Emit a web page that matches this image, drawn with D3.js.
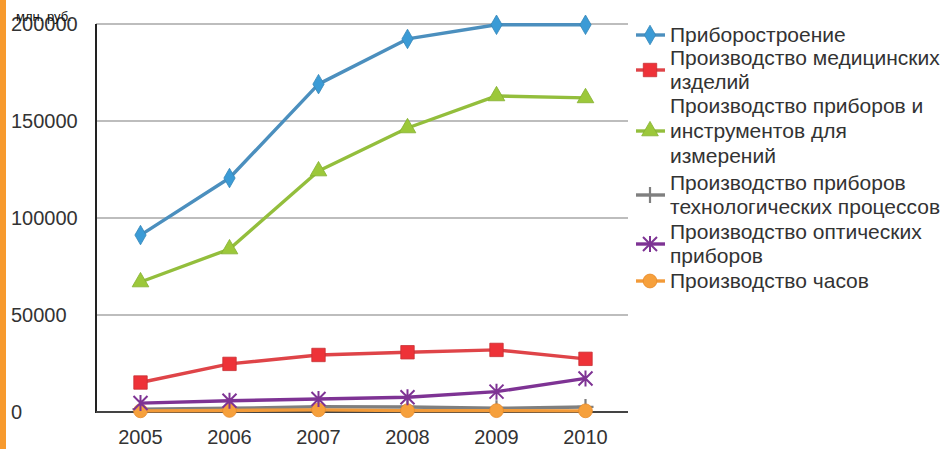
<!DOCTYPE html>
<html>
<head>
<meta charset="utf-8">
<script src="https://cdn.jsdelivr.net/npm/d3@7/dist/d3.min.js"></script>
<style>
  html, body { margin: 0; padding: 0; background: #fff; }
  svg { display: block; }
  text { font-family: "Liberation Sans", Arial, sans-serif; }
</style>
</head>
<body>
<svg id="chart" width="947" height="449"></svg>
<script>
// Years on the category axis
const years = ["2005", "2006", "2007", "2008", "2009", "2010"];

// Output by industry segment, млн. руб.
const instrumentMaking   = [91200, 120600, 169000, 192300, 199600, 199600];
const medicalProducts    = [15200, 24800, 29400, 30800, 32000, 27400];
const measuringDevices   = [67000, 84000, 124200, 146400, 162900, 161900];
const processControl     = [1500, 1900, 2700, 2600, 1900, 2600];
const opticalDevices     = [4600, 5800, 6700, 7600, 10500, 17300];
const watches            = [600, 800, 1100, 700, 700, 600];

const yTicks = [0, 50000, 100000, 150000, 200000];

const seriesNames = [
  ["Приборостроение"],
  ["Производство медицинских", "изделий"],
  ["Производство приборов и", "инструментов для", "измерений"],
  ["Производство приборов", "технологических процессов"],
  ["Производство оптических", "приборов"],
  ["Производство часов"]
];

const series = [
  { values: instrumentMaking, line: "#4b8fbe", fill: "#3b9bd6", marker: "diamond" },
  { values: medicalProducts,  line: "#df4448", fill: "#ee3238", marker: "square" },
  { values: measuringDevices, line: "#93be3c", fill: "#9cc83a", marker: "triangle" },
  { values: processControl,   line: "#7f7f7f", fill: "#7f7f7f", marker: "plus" },
  { values: opticalDevices,   line: "#7e3394", fill: "#7e3394", marker: "star" },
  { values: watches,          line: "#f29a38", fill: "#f6a03c", marker: "circle" }
];

const svg = d3.select("#chart");

// left accent stripe
svg.append("rect").attr("x", 0).attr("y", 0).attr("width", 6).attr("height", 449).attr("fill", "#f79a2e");

const plotLeft = 96, plotRight = 630, plotTop = 24, plotBottom = 412;
const x = d3.scaleBand().domain(years).range([plotLeft, plotRight]).padding(0);
const y = d3.scaleLinear().domain([0, 200000]).range([plotBottom, plotTop]);

// horizontal gridlines
svg.append("g").selectAll("line").data(yTicks.filter(d => d > 0)).join("line")
  .attr("x1", plotLeft).attr("x2", plotRight - 2)
  .attr("y1", d => y(d)).attr("y2", d => y(d))
  .attr("stroke", "#bdbdbd").attr("stroke-width", 2);

// y tick labels (left aligned)
svg.append("g").selectAll("text").data(yTicks).join("text")
  .attr("x", 11).attr("y", d => y(d) + 7)
  .attr("font-size", 20).attr("fill", "#333")
  .text(d => d);

// unit caption
svg.append("text").attr("x", 16).attr("y", 21).attr("font-size", 13).attr("fill", "#111")
  .text("млн. руб.");

// axis lines
svg.append("line").attr("x1", plotLeft).attr("x2", plotLeft).attr("y1", plotTop).attr("y2", plotBottom + 1)
  .attr("stroke", "#222").attr("stroke-width", 2);
svg.append("line").attr("x1", plotLeft).attr("x2", plotRight - 2).attr("y1", plotBottom).attr("y2", plotBottom)
  .attr("stroke", "#444").attr("stroke-width", 2);

// x tick labels
svg.append("g").selectAll("text").data(years).join("text")
  .attr("x", d => x(d) + x.bandwidth() / 2).attr("y", 444)
  .attr("text-anchor", "middle").attr("font-size", 20).attr("fill", "#333")
  .text(d => d);

function drawMarker(g, type, fill, cx, cy) {
  if (type === "diamond") {
    g.append("path").attr("d", d3.symbol(d3.symbolDiamond, 110)())
      .attr("transform", `translate(${cx},${cy})`).attr("fill", fill).attr("stroke", "#3586b8").attr("stroke-width", 0.8);
  } else if (type === "square") {
    g.append("path").attr("d", d3.symbol(d3.symbolSquare, 180)())
      .attr("transform", `translate(${cx},${cy})`).attr("fill", fill).attr("stroke", "#c83034").attr("stroke-width", 0.8);
  } else if (type === "triangle") {
    g.append("path").attr("d", d3.symbol(d3.symbolTriangle, 120)())
      .attr("transform", `translate(${cx},${cy})`).attr("fill", fill).attr("stroke", "#84b030").attr("stroke-width", 0.8);
  } else if (type === "circle") {
    g.append("path").attr("d", d3.symbol(d3.symbolCircle, 150)())
      .attr("transform", `translate(${cx},${cy})`).attr("fill", fill).attr("stroke", "#e88a28").attr("stroke-width", 0.8);
  } else if (type === "plus") {
    const p = d3.path(); const r = 8;
    p.moveTo(-r, 0); p.lineTo(r, 0); p.moveTo(0, -r); p.lineTo(0, r);
    g.append("path").attr("d", p.toString()).attr("transform", `translate(${cx},${cy})`)
      .attr("stroke", fill).attr("stroke-width", 2.2).attr("fill", "none");
  } else if (type === "star") {
    const p = d3.path(); const r = 7;
    p.moveTo(-r, -r); p.lineTo(r, r); p.moveTo(-r, r); p.lineTo(r, -r);
    p.moveTo(0, -r - 1); p.lineTo(0, r + 1);
    g.append("path").attr("d", p.toString()).attr("transform", `translate(${cx},${cy})`)
      .attr("stroke", fill).attr("stroke-width", 2).attr("fill", "none");
  }
}

const cx = d => x(d) + x.bandwidth() / 2;
const line = d3.line().x((v, i) => cx(years[i])).y(v => y(v));

// draw bottom series first so the larger ones sit on top
const order = [3, 5, 4, 1, 2, 0];
order.forEach(k => {
  const s = series[k];
  const g = svg.append("g");
  g.append("path").attr("d", line(s.values)).attr("fill", "none")
    .attr("stroke", s.line).attr("stroke-width", 3.4).attr("stroke-linejoin", "round");
  s.values.forEach((v, i) => drawMarker(g, s.marker, s.fill, cx(years[i]), y(v)));
});

// legend
const legendLines = [35, 58, 82, 106, 131, 156, 183, 207, 232, 256, 281];
let li = 0;
const legend = svg.append("g");
seriesNames.forEach((names, k) => {
  const ys = names.map(() => legendLines[li++]);
  const my = ys.length === 3 ? ys[1] : (ys[0] + ys[ys.length - 1]) / 2;
  const s = series[k];
  legend.append("line").attr("x1", 636).attr("x2", 665).attr("y1", my).attr("y2", my)
    .attr("stroke", s.line).attr("stroke-width", 3.4);
  drawMarker(legend, s.marker, s.fill, 650, my);
  names.forEach((t, j) => {
    legend.append("text").attr("x", 670).attr("y", ys[j] + 7)
      .attr("font-size", 21).attr("fill", "#333").text(t);
  });
});
</script>
</body>
</html>
